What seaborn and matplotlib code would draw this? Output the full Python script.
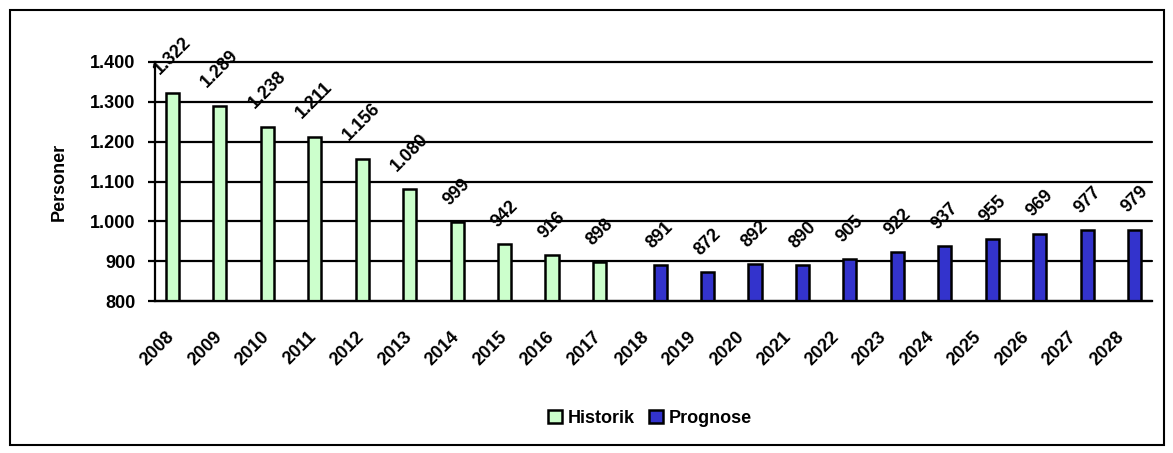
import numpy as np
import pandas as pd
import matplotlib
matplotlib.use("Agg")
import matplotlib.pyplot as plt
import matplotlib.ticker as mticker
import matplotlib.transforms as mtransforms
from matplotlib.patches import Rectangle
import seaborn as sns

# data
hist_years = [2008, 2009, 2010, 2011, 2012, 2013, 2014, 2015, 2016, 2017]
hist_values = [1322, 1289, 1238, 1211, 1156, 1080, 999, 942, 916, 898]
prog_years = [2018, 2019, 2020, 2021, 2022, 2023, 2024, 2025, 2026, 2027, 2028]
prog_values = [891, 872, 892, 890, 905, 922, 937, 955, 969, 977, 979]
series_names = ["Historik", "Prognose"]
series_colors = ["#CCFFCC", "#3333CC"]


def dk_fmt(v):
    return f"{int(v):,}".replace(",", ".")


df = pd.DataFrame({
    "year": [str(y) for y in hist_years + prog_years],
    "value": hist_values + prog_values,
    "serie": [series_names[0]] * len(hist_years) + [series_names[1]] * len(prog_years),
})

sns.set_style("white")
plt.rcParams["font.family"] = ["Liberation Sans", "DejaVu Sans"]
plt.rcParams["font.weight"] = "bold"
plt.rcParams["text.color"] = "black"
plt.rcParams["axes.labelcolor"] = "black"
plt.rcParams["xtick.color"] = "black"
plt.rcParams["ytick.color"] = "black"

FS = 13

fig = plt.figure(figsize=(11.73, 4.53), dpi=100)
ax = fig.add_axes([155 / 1173, 1 - 301 / 453, 997 / 1173, 239 / 453])

sns.barplot(data=df, x="year", y="value", hue="serie", hue_order=series_names,
            palette=series_colors, saturation=1, width=0.55, dodge=True,
            edgecolor="black", linewidth=1.8, ax=ax)

ax.set_ylim(800, 1400)
ax.yaxis.set_major_locator(mticker.MultipleLocator(100))
ax.yaxis.set_major_formatter(mticker.FuncFormatter(lambda v, p: dk_fmt(v)))
ax.yaxis.grid(True, color="black", linewidth=1.6)
ax.set_axisbelow(True)
for gl in ax.get_ygridlines():
    gl.set_clip_on(False)
for side in ["top", "right"]:
    ax.spines[side].set_visible(False)
for side in ["left", "bottom"]:
    ax.spines[side].set_color("black")
    ax.spines[side].set_linewidth(1.6)

ax.tick_params(axis="y", left=True, length=5, width=1.6, pad=9, labelsize=FS)
ax.tick_params(axis="x", bottom=False, length=0, pad=24, labelsize=FS)
ax.set_xlabel("")
ax.set_ylabel("Personer", fontsize=FS, fontweight="bold")
ax.yaxis.set_label_coords(-0.088, 0.5)

shift = mtransforms.ScaledTranslation(-7 / 100, 0, fig.dpi_scale_trans)
for lab in ax.get_xticklabels():
    lab.set_rotation(45)
    lab.set_ha("right")
    lab.set_va("center")
    lab.set_rotation_mode("anchor")
    lab.set_fontweight("bold")
    lab.set_transform(lab.get_transform() + shift)
for lab in ax.get_yticklabels():
    lab.set_fontweight("bold")

# value labels above bars
for cont in ax.containers:
    for bar in cont:
        h = bar.get_height()
        if np.isnan(h) or h <= 0:
            continue
        txt = dk_fmt(h)
        off = 37 if len(txt) > 3 else 30
        ax.annotate(txt, xy=(bar.get_x() + bar.get_width() / 2, h),
                    xytext=(0, off), textcoords="offset pixels",
                    ha="center", va="center", rotation=45, rotation_mode="anchor",
                    fontsize=FS, fontweight="bold", annotation_clip=False)

handles, labels = ax.get_legend_handles_labels()
if ax.get_legend() is not None:
    ax.get_legend().remove()
fig.legend(handles, labels, loc="center", bbox_to_anchor=(0.554, 0.077),
           ncol=2, frameon=False, handlelength=0.8, handleheight=0.8,
           handletextpad=0.3, columnspacing=0.8,
           prop={"weight": "bold", "size": FS})

fig.patches.append(Rectangle((10 / 1173, 8 / 453), 1154 / 1173, 435 / 453,
                             transform=fig.transFigure, fill=False,
                             edgecolor="black", linewidth=1.5))

fig.savefig("out.png", dpi=100)
